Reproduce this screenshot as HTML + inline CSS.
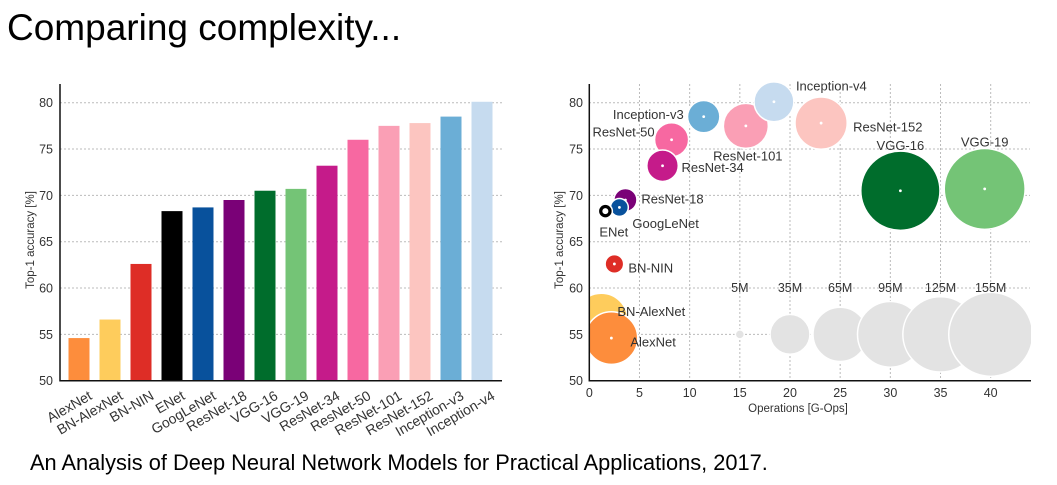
<!DOCTYPE html>
<html><head><meta charset="utf-8"><style>
body{margin:0;background:#fff;width:1057px;height:480px;overflow:hidden;font-family:"Liberation Sans",sans-serif}
</style></head><body>
<svg id="s" width="1057" height="480" xmlns="http://www.w3.org/2000/svg" font-family="Liberation Sans, sans-serif">
<text x="7" y="40" font-size="37" fill="#000">Comparing complexity...</text>
<text x="30" y="470" font-size="21.8" fill="#000">An Analysis of Deep Neural Network Models for Practical Applications, 2017.</text>
<g id="left"></g>
<g id="right"></g>
</svg>
<script>
const models=["AlexNet","BN-AlexNet","BN-NIN","ENet","GoogLeNet","ResNet-18","VGG-16","VGG-19","ResNet-34","ResNet-50","ResNet-101","ResNet-152","Inception-v3","Inception-v4"];
const accuracy=[54.6,56.6,62.6,68.3,68.7,69.5,70.5,70.7,73.2,76.0,77.5,77.8,78.5,80.1];
const colors=["#fd8d3c","#fecc5c","#de2d26","#000000","#08519c","#7a0177","#006d2c","#74c476","#c51b8a","#f768a1","#fa9fb5","#fcc5c0","#6baed6","#c6dbef"];
const ops=[2.2,1.2,2.5,1.6,3.0,3.6,31.0,39.4,7.3,8.2,15.6,23.1,11.4,18.4];
const params=[61,61,7.6,4,7,11.7,138,144,21.8,25.5,44.5,60,23,35];
const yTicks=[50,55,60,65,70,75,80];
const xTicks=[0,5,10,15,20,25,30,35,40];
const refLabels=["5M","35M","65M","95M","125M","155M"];
const refParams=[1.5,35,65,95,125,155];
const refOps=[15,20,25,30,35,40];
const NS="http://www.w3.org/2000/svg";
function mk(p,t,a,txt){const e=document.createElementNS(NS,t);for(const k in a)e.setAttribute(k,a[k]);if(txt!==undefined)e.textContent=txt;p.appendChild(e);return e;}
const y=v=>380.7-(v-50)*278/30;
const TC='#333';
// left
const L=document.getElementById('left');
const bx=i=>79+i*31;
yTicks.forEach(t=>{
 const g=mk(L,'line',{x1:60,x2:502,y1:y(t),y2:y(t),stroke:'#bbb','stroke-dasharray':'2,2','stroke-width':1});
 
 const l=mk(L,'text',{x:53,y:y(t)+4.5,'font-size':12.5,'text-anchor':'end',fill:TC},t);
 
});
models.forEach((m,i)=>{
 const b=mk(L,'rect',{x:bx(i)-10.5,y:y(accuracy[i]),width:21,height:y(50)-y(accuracy[i]),fill:colors[i]});
 
 const t=mk(L,'text',{x:bx(i)+9,y:390,'font-size':14,'text-anchor':'end',fill:TC,transform:`rotate(-30 ${bx(i)+9} 390)`,dy:'0.7em'},m);
 
});
let a=mk(L,'path',{d:'M60,84 V380.7 H502',stroke:'#111','stroke-width':1.5,fill:'none'});

a=mk(L,'text',{x:34,y:240,'font-size':11.5,'text-anchor':'middle',fill:TC,transform:'rotate(-90 34 240)'},'Top-1 accuracy [%]');

// right
const R=document.getElementById('right');
const x=v=>589.3+v*10.035;
const rad=p=>Math.max(7,3.37*Math.sqrt(p));
yTicks.forEach(t=>{
 const g=mk(R,'line',{x1:589,x2:1030,y1:y(t),y2:y(t),stroke:'#bbb','stroke-dasharray':'2,2'});
 
 const l=mk(R,'text',{x:583,y:y(t)+4.5,'font-size':12.5,'text-anchor':'end',fill:TC},t);
 
});
xTicks.forEach(t=>{
 const g=mk(R,'line',{x1:x(t),x2:x(t),y1:84,y2:380.7,stroke:'#bbb','stroke-dasharray':'2,2'});
 
 const l=mk(R,'text',{x:x(t),y:397,'font-size':12.5,'text-anchor':'middle',fill:TC},t);
 
});
const cp=mk(R,'clipPath',{id:'cp'});
mk(cp,'rect',{x:589,y:80,width:442,height:300.7});
const cg=mk(R,'g',{'clip-path':'url(#cp)'});
refOps.forEach((o,i)=>{
 const c=mk(cg,'circle',{cx:x(o),cy:y(55),r:refParams[i]<5?4.5:3.37*Math.sqrt(refParams[i]),fill:'#e3e3e3',stroke:'#fff','stroke-width':1.5});
 
 const t=mk(R,'text',{x:x(o),y:y(60)+4,'font-size':12.5,'text-anchor':'middle',fill:TC},refLabels[i]);
 
});
const lab={"AlexNet":[19,4,'start'],"BN-AlexNet":[16,-8,'start'],"BN-NIN":[14,4,'start'],"ENet":[-6,21,'start'],"GoogLeNet":[13,16,'start'],"ResNet-18":[16,-1,'start'],"VGG-16":[0,-45,'middle'],"VGG-19":[0,-47,'middle'],"ResNet-34":[19,2,'start'],"ResNet-50":[-17,-8,'end'],"ResNet-101":[2,30,'middle'],"ResNet-152":[32,4,'start'],"Inception-v3":[-20,-2,'end'],"Inception-v4":[22,-16,'start']};
const order=models.map((m,i)=>i).sort((p,q)=>params[q]-params[p]||accuracy[q]-accuracy[p]);
order.forEach(i=>{
 const m=models[i];
 const c=mk(cg,'circle',{cx:x(ops[i]),cy:y(accuracy[i]),r:rad(params[i]),fill:colors[i],stroke:'#fff','stroke-width':1.5});
 
 const d=mk(cg,'circle',{cx:x(ops[i]),cy:y(accuracy[i]),r:m==='ENet'?3:1.4,fill:'#fff'});
 
});
models.forEach((m,i)=>{
 const o=lab[m];
 const t=mk(R,'text',{x:x(ops[i])+o[0],y:y(accuracy[i])+o[1]+4.5,'font-size':13,'text-anchor':o[2],fill:TC},m);
 
});
a=mk(R,'path',{d:'M589.3,84 V380.7 H1031',stroke:'#111','stroke-width':1.5,fill:'none'});

a=mk(R,'text',{x:563,y:240,'font-size':11.5,'text-anchor':'middle',fill:TC,transform:'rotate(-90 563 240)'},'Top-1 accuracy [%]');

a=mk(R,'text',{x:x(20.8),y:412,'font-size':11.5,'text-anchor':'middle',fill:TC},'Operations [G-Ops]');

</script>
</body></html>
